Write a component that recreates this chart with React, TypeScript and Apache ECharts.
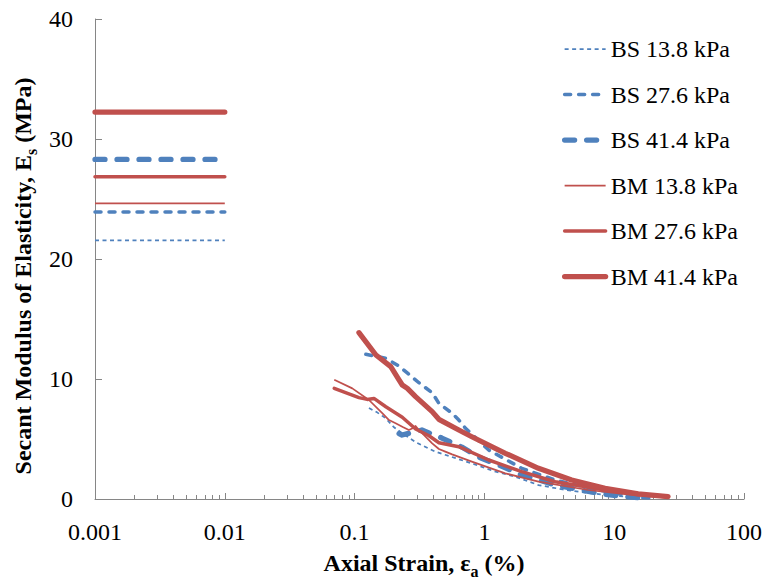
import React, { useEffect, useRef } from "react";
import * as echarts from "echarts";

const FONT = "Liberation Serif";
const BLUE = "#4F81BD";
const RED = "#C0504D";
const AXIS = "#868686";

const seriesNames = ["BS 13.8 kPa", "BS 27.6 kPa", "BS 41.4 kPa", "BM 13.8 kPa", "BM 27.6 kPa", "BM 41.4 kPa"];

// Small-strain (horizontal) moduli, plotted from 0.001 % to 0.01 %
const smallStrainRange = [0.001, 0.01];
const smallStrainModulus = [21.56, 23.92, 28.3, 24.64, 26.86, 32.25];

// Secant modulus curves [axial strain %, Es MPa]
const bs138 = [[0.129, 7.58], [0.15, 7.2], [0.174, 6.72], [0.2, 6.0], [0.233, 5.47], [0.3, 4.7], [0.42, 3.94], [0.6, 3.4], [0.8, 2.97], [1.2, 2.3], [1.73, 1.86], [2.61, 1.16], [4, 0.8], [6.3, 0.5], [10, 0.28], [17, 0.05]];
const bs276 = [[0.122, 12.06], [0.174, 11.72], [0.22, 11.08], [0.313, 9.69], [0.396, 8.86], [0.446, 7.97], [0.564, 7.14], [0.635, 6.58], [0.715, 5.89], [1.08, 4.08], [1.94, 2.56], [3.51, 1.58], [7.54, 0.75], [15.3, 0.14], [19, 0.08]];
const bs414 = [[0.22, 5.45], [0.232, 5.33], [0.33, 5.75], [0.47, 5.08], [0.67, 4.33], [0.9, 3.5], [1.29, 2.83], [1.94, 2.0], [3.51, 1.17], [7.54, 0.47], [12, 0.2], [17.2, 0.06]];
const bm138 = [[0.0697, 9.94], [0.096, 9.22], [0.129, 8.25], [0.164, 7.14], [0.184, 6.58], [0.207, 6.31], [0.235, 6.0], [0.262, 5.75], [0.28, 5.9], [0.295, 6.08], [0.313, 5.75], [0.396, 4.64], [0.446, 4.17], [0.5, 3.95], [0.564, 3.72], [0.8, 3.11], [1.45, 2.14], [2.61, 1.44], [6.3, 0.75], [15.3, 0.28], [22, 0.18]];
const bm276 = [[0.0697, 9.22], [0.108, 8.45], [0.125, 8.3], [0.141, 8.38], [0.174, 7.69], [0.233, 6.81], [0.295, 5.83], [0.374, 5.27], [0.446, 4.69], [0.635, 4.36], [1.08, 3.25], [1.94, 2.28], [3.51, 1.44], [8.5, 0.75], [24.5, 0.19]];
const bm414 = [[0.108, 13.86], [0.146, 12.0], [0.19, 11.03], [0.215, 10.1], [0.233, 9.5], [0.255, 9.22], [0.295, 8.53], [0.396, 7.28], [0.446, 6.64], [0.635, 5.75], [0.8, 5.19], [1.45, 3.81], [2.61, 2.56], [4.7, 1.58], [8.5, 0.89], [15.3, 0.42], [26, 0.2]];

const curves = [bs138, bs276, bs414, bm138, bm276, bm414];

const xTicks = [0.001, 0.01, 0.1, 1, 10, 100];
const yTicks = [0, 10, 20, 30, 40];
const minorMultipliers = [2, 3, 4, 5, 6, 7, 8, 9];

const styles = [
  { color: BLUE, width: 1.75, type: [4, 3.5], cap: "butt" },
  { color: BLUE, width: 3.5, type: [6, 8], cap: "round" },
  { color: BLUE, width: 5.25, type: [10, 12], cap: "round" },
  { color: RED, width: 1.75, type: "solid", cap: "butt" },
  { color: RED, width: 3.5, type: "solid", cap: "round" },
  { color: RED, width: 5.25, type: "solid", cap: "round" },
];

export default function App() {
  const ref = useRef<HTMLDivElement>(null);
  useEffect(() => {
    if (!ref.current) return;
    const chart = echarts.init(ref.current, null, { renderer: "svg" });

    const minorTicks: number[][] = [];
    for (let i = 0; i < xTicks.length - 1; i++) {
      for (const m of minorMultipliers) minorTicks.push([xTicks[i] * m, 0]);
    }

    const lineStyleOf = (i: number) => ({
      color: styles[i].color,
      width: styles[i].width,
      type: styles[i].type,
      cap: styles[i].cap,
      join: "round",
    });

    const series: any[] = seriesNames.map((name, i) => ({
      name,
      type: "line",
      symbol: "none",
      smooth: false,
      connectNulls: false,
      lineStyle: lineStyleOf(i),
      itemStyle: { color: styles[i].color },
      data: [
        [smallStrainRange[0], smallStrainModulus[i]],
        [smallStrainRange[1], smallStrainModulus[i]],
        [0.03, "-"],
        ...curves[i],
      ],
    }));

    series.unshift({
      type: "custom",
      silent: true,
      renderItem: (params: any, api: any) => {
        const p = api.coord([api.value(0), 0]);
        return {
          type: "line",
          shape: { x1: Math.round(p[0]) + 0.5, y1: p[1], x2: Math.round(p[0]) + 0.5, y2: p[1] - 4 },
          style: { stroke: AXIS, lineWidth: 1 },
        };
      },
      data: minorTicks,
      z: 1,
    });

    const richTitle = {
      b: { fontFamily: FONT, fontSize: 24, fontWeight: "bold", fill: "#000", lineHeight: 30, verticalAlign: "bottom", padding: [0, 0, 4, 0] },
      s: { fontFamily: FONT, fontSize: 16, fontWeight: "bold", fill: "#000", lineHeight: 16, verticalAlign: "bottom" },
    };

    chart.setOption({
      animation: false,
      backgroundColor: "#fff",
      textStyle: { fontFamily: FONT },
      grid: { left: 95, right: 19, top: 19, bottom: 81, containLabel: false },
      legend: {
        orient: "vertical",
        left: 557,
        top: 32,
        itemWidth: 41,
        itemHeight: 14,
        itemGap: 21.5,
        itemStyle: { opacity: 0 },
        data: seriesNames.map((name, i) => ({ name, lineStyle: lineStyleOf(i), itemStyle: { opacity: 0 } })),
        textStyle: { fontFamily: FONT, fontSize: 24, color: "#000", lineHeight: 24 },
      },
      xAxis: {
        type: "log",
        logBase: 10,
        min: xTicks[0],
        max: xTicks[xTicks.length - 1],
        axisLine: { show: true, lineStyle: { color: AXIS, width: 1 } },
        axisTick: { show: true, inside: true, length: 6, lineStyle: { color: AXIS } },
        splitLine: { show: false },
        axisLabel: {
          color: "#000",
          fontSize: 24,
          fontFamily: FONT,
          margin: 21,
          formatter: (v: number) => {
            const t = xTicks.find((x) => Math.abs(Math.log10(x) - Math.log10(v)) < 1e-6);
            return t === undefined ? "" : String(t);
          },
        },
      },
      yAxis: {
        type: "value",
        min: yTicks[0],
        max: yTicks[yTicks.length - 1],
        interval: 10,
        axisLine: { show: true, lineStyle: { color: AXIS, width: 1 } },
        axisTick: { show: true, inside: true, length: 7, lineStyle: { color: AXIS } },
        splitLine: { show: false },
        axisLabel: { color: "#000", fontSize: 24, fontFamily: FONT, margin: 22, padding: [9, 0, 0, 0] },
      },
      graphic: [
        {
          type: "text",
          x: 424,
          y: 564,
          style: {
            text: "{b|Axial Strain, ε}{s|a}{b| (%)}",
            align: "center",
            verticalAlign: "middle",
            rich: richTitle,
          },
        },
        {
          type: "text",
          x: 24,
          y: 276,
          rotation: Math.PI / 2,
          style: {
            text: "{b|Secant Modulus of Elasticity, E}{s|s}{b| (MPa)}",
            align: "center",
            verticalAlign: "middle",
            rich: richTitle,
          },
        },
      ],
      series,
    });
    return () => chart.dispose();
  }, []);
  return <div ref={ref} style={{ width: 765, height: 580, position: "absolute", left: 0, top: 0 }} />;
}
